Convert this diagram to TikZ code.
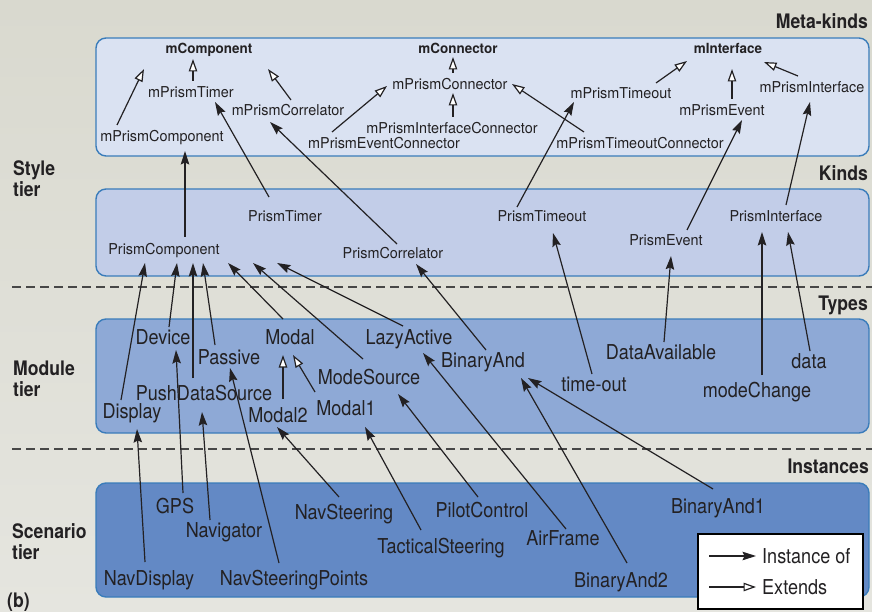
\documentclass[tikz,border=0pt]{standalone}
\usepackage{fontspec}
\setmainfont[FakeStretch=0.88]{TeX Gyre Heros}
\newfontfamily\kindfont[FakeStretch=0.96]{TeX Gyre Heros}
\usepackage{tikz}
\usetikzlibrary{
  arrows.meta,
  calc,         % Calculations $...$
}
\definecolor{paper}{RGB}{217,217,207}
\definecolor{paperlow}{RGB}{229,229,223}
\definecolor{tierline}{RGB}{58,124,186}
\definecolor{metafill}{RGB}{218,226,242}
\definecolor{kindfill}{RGB}{194,205,232}
\definecolor{typefill}{RGB}{142,169,214}
\definecolor{instfill}{RGB}{99,137,197}
\definecolor{ink}{RGB}{35,33,35}
\def\myrad{10pt}
\newcommand{\instof}[4]{\draw[instance] ($(#1)+(#2)$) -- ($(#3)+(#4)$);}
\newcommand{\extof}[4]{\draw[extends] ($(#1)+(#2)$) -- ($(#3)+(#4)$);}
\tikzset{
  my tier/.style={
    draw=tierline,
    line width=1.4pt,
    rounded corners=\myrad
  },
  my split/.style={
    draw=black!72,
    line width=1.3pt,
    dash pattern=on 9pt off 5pt
  },
  my heading/.style={
    font=\bfseries\fontsize{20}{21}\selectfont,
    text=ink,
    inner sep=0pt,
    align=left
  },
  my kind/.style={
    font=\kindfont\fontsize{15}{18}\selectfont,
    text=ink,
    inner sep=0pt,
    text height=10.8pt,
    text depth=0pt
  },
  my meta/.style={
    my kind,
    font=\kindfont\bfseries\fontsize{14}{17}\selectfont,
    text height=10pt
  },
  my type/.style={
    font=\fontsize{20.5}{24}\selectfont,
    text=ink,
    inner sep=0pt,
    text height=14.7pt,
    text depth=0pt
  },
  instance/.style={
    draw=ink,
    line width=1.2pt,
    -{Stealth[length=13.5pt,width=8.5pt,inset=2pt]}
  },
  extends/.style={
    draw=ink,
    line width=1.2pt,
    -{Triangle[length=12.5pt,width=8.5pt,fill=white]}
  }
}

\begin{document}
\begin{tikzpicture}[x=1pt,y=-1pt]
\useasboundingbox (0,0) rectangle (872,612);
\shade[top color=paper,bottom color=paperlow] (0,0) rectangle (872,612);

% tiers
\draw[my tier,fill=metafill] (96,38)  rectangle (869,156);
\draw[my tier,fill=kindfill] (96,189) rectangle (869,276);
\draw[my tier,fill=typefill] (96,319) rectangle (869,433);
\draw[my tier,fill=instfill] (96,483) rectangle (869,597);
\draw[my split] (12,287) -- (872,287);
\draw[my split] (12,449) -- (872,449);

\node[my heading,anchor=east,text height=14.4pt,text depth=0pt] (hMeta)  at (868,21)  {Meta-kinds};
\node[my heading,anchor=east,text height=14.4pt,text depth=0pt] (hKinds) at (868,173) {Kinds};
\node[my heading,anchor=east,text height=14.4pt,text depth=0pt] (hTypes) at (868,303) {Types};
\node[my heading,anchor=east,text height=14.4pt,text depth=0pt] (hInst)  at (869,466) {Instances};
\node[my heading,anchor=north west] (tStyle)    at (13,160) {Style\\tier};
\node[my heading,anchor=north west] (tModule)   at (13,361) {Module\\tier};
\node[my heading,anchor=north west] (tScenario) at (12,523) {Scenario\\tier};
\node[my heading,anchor=west,text height=14.4pt,text depth=0pt] (panel) at (7,600) {(b)};

% meta-kinds
\node[my meta] (mComponent) at (209,49) {mComponent};
\node[my meta] (mConnector) at (458,49) {mConnector};
\node[my meta] (mInterface) at (728,49) {mInterface};
\node[my kind] (mPrismTimer)              at (191,92)  {mPrismTimer};
\node[my kind] (mPrismCorrelator)         at (288,110) {mPrismCorrelator};
\node[my kind] (mPrismComponent)          at (162,136) {mPrismComponent};
\node[my kind] (mPrismConnector)          at (450,84)  {mPrismConnector};
\node[my kind] (mPrismInterfaceConnector) at (452,128) {mPrismInterfaceConnector};
\node[my kind] (mPrismEventConnector)     at (384,143) {mPrismEventConnector};
\node[my kind] (mPrismTimeout)            at (621,93)  {mPrismTimeout};
\node[my kind] (mPrismEvent)              at (722,110) {mPrismEvent};
\node[my kind] (mPrismInterface)          at (812,87)  {mPrismInterface};
\node[my kind] (mPrismTimeoutConnector)   at (640,143) {mPrismTimeoutConnector};

% kinds
\node[my kind] (PrismComponent)  at (164,249) {PrismComponent};
\node[my kind] (PrismTimer)      at (285,216) {PrismTimer};
\node[my kind] (PrismCorrelator) at (393,253) {PrismCorrelator};
\node[my kind] (PrismTimeout)    at (542,216) {PrismTimeout};
\node[my kind] (PrismEvent)      at (666,240) {PrismEvent};
\node[my kind] (PrismInterface)  at (776,216) {PrismInterface};

% types
\node[my type] (Device)         at (163,337) {Device};
\node[my type] (Passive)        at (229,357) {Passive};
\node[my type] (Modal)          at (290,337) {Modal};
\node[my type] (LazyActive)     at (409,337) {LazyActive};
\node[my type] (BinaryAnd)      at (483,360) {BinaryAnd};
\node[my type] (ModeSource)     at (369,377) {ModeSource};
\node[my type] (PushDataSource) at (204,393) {PushDataSource};
\node[my type] (Display)        at (132,411) {Display};
\node[my type] (Modal2)         at (278,415) {Modal2};
\node[my type] (Modal1)         at (346,408) {Modal1};
\node[my type] (timeout)        at (594,384) {time-out};
\node[my type] (DataAvailable)  at (661,352) {DataAvailable};
\node[my type] (modeChange)     at (757,390) {modeChange};
\node[my type] (data)           at (809,361) {data};

% instances
\node[my type] (GPS)               at (175,506) {GPS};
\node[my type] (Navigator)         at (224,530) {Navigator};
\node[my type] (NavSteering)       at (344,512) {NavSteering};
\node[my type] (PilotControl)      at (482,510) {PilotControl};
\node[my type] (TacticalSteering)  at (441,546) {TacticalSteering};
\node[my type] (AirFrame)          at (563,538) {AirFrame};
\node[my type] (BinaryAndOne)      at (718,506) {BinaryAnd1};
\node[my type] (BinaryAndTwo)      at (621,580) {BinaryAnd2};
\node[my type] (NavDisplay)        at (149,578) {NavDisplay};
\node[my type] (NavSteeringPoints) at (294,578) {NavSteeringPoints};

% extends, meta tier
\extof{mPrismTimer}{2,-11}{mComponent}{-16,10}
\extof{mPrismComponent}{-45,-11}{mComponent}{-65,20}
\extof{mPrismCorrelator}{3,-10}{mComponent}{59,20}
\extof{mPrismEventConnector}{-52,-11}{mPrismConnector}{-63,2}
\extof{mPrismConnector}{3,-11}{mConnector}{-5,8}
\extof{mPrismInterfaceConnector}{1,-11}{mPrismConnector}{3,9}
\extof{mPrismTimeoutConnector}{-56,-11}{mPrismConnector}{62,0}
\extof{mPrismTimeout}{35,-10}{mInterface}{-41,12}
\extof{mPrismEvent}{10,-11}{mInterface}{4,20}
\extof{mPrismInterface}{-14,-11}{mInterface}{36,13}

% kinds -> meta-kinds
\instof{PrismComponent}{21,-12}{mPrismComponent}{23,15}
\instof{PrismTimer}{-16,-19}{mPrismTimer}{24,10}
\instof{PrismCorrelator}{4,-9}{mPrismCorrelator}{-18,12}
\instof{PrismTimeout}{-25,-9}{mPrismTimeout}{-47,9}
\instof{PrismEvent}{21,-10}{mPrismEvent}{20,10}
\instof{PrismInterface}{10,-11}{mPrismInterface}{-2,15}

% types -> kinds
\instof{Display}{-11,-11}{PrismComponent}{-19,14}
\instof{Device}{6,-10}{PrismComponent}{13,14}
\instof{PushDataSource}{-11,-15}{PrismComponent}{29,14}
\instof{Passive}{-14,-12}{PrismComponent}{39,14}
\instof{Modal}{-7,-18}{PrismComponent}{64,14}
\instof{ModeSource}{-6,-18}{PrismComponent}{89,14}
\instof{LazyActive}{-6,-11}{PrismComponent}{113,14}
\instof{BinaryAnd}{3,-10}{PrismCorrelator}{23,11}
\instof{timeout}{-2,-10}{PrismTimeout}{11,17}
\instof{DataAvailable}{3,-10}{PrismEvent}{5,16}
\instof{modeChange}{5,-15}{PrismInterface}{-14,16}
\instof{data}{1,-10}{PrismInterface}{12,16}
\extof{Modal2}{5,-16}{Modal}{-7,18}
\extof{Modal1}{-31,-16}{Modal}{3,18}

% instances -> types
\instof{NavDisplay}{-4,-16}{Display}{5,18}
\instof{GPS}{8,-13}{Device}{13,13}
\instof{Navigator}{-14,-10}{PushDataSource}{-2,19}
\instof{NavSteeringPoints}{-15,-15}{Passive}{1,11}
\instof{NavSteering}{-5,-15}{Modal2}{-1,12}
\instof{TacticalSteering}{-20,-16}{Modal1}{19,19}
\instof{PilotControl}{-4,-13}{ModeSource}{29,17}
\instof{AirFrame}{3,-9}{LazyActive}{14,16}
\instof{BinaryAndTwo}{6,-17}{BinaryAnd}{38,18}
\instof{BinaryAndOne}{-5,-17}{BinaryAnd}{45,18}

% legend
\draw[fill=white,draw=black,line width=1.5pt] (698,534) rectangle (863,609);
\node[my type,anchor=west] (instLbl) at (762,556) {Instance of};
\node[my type,anchor=west] (extLbl)  at (762,587) {Extends};
\coordinate (instKey) at (709,556);
\coordinate (extKey)  at (709,587);
\draw[instance] (instKey) -- ([xshift=-6pt]instLbl.west);
\draw[extends]  (extKey)  -- ([xshift=-6pt]extLbl.west);
\end{tikzpicture}
\end{document}
